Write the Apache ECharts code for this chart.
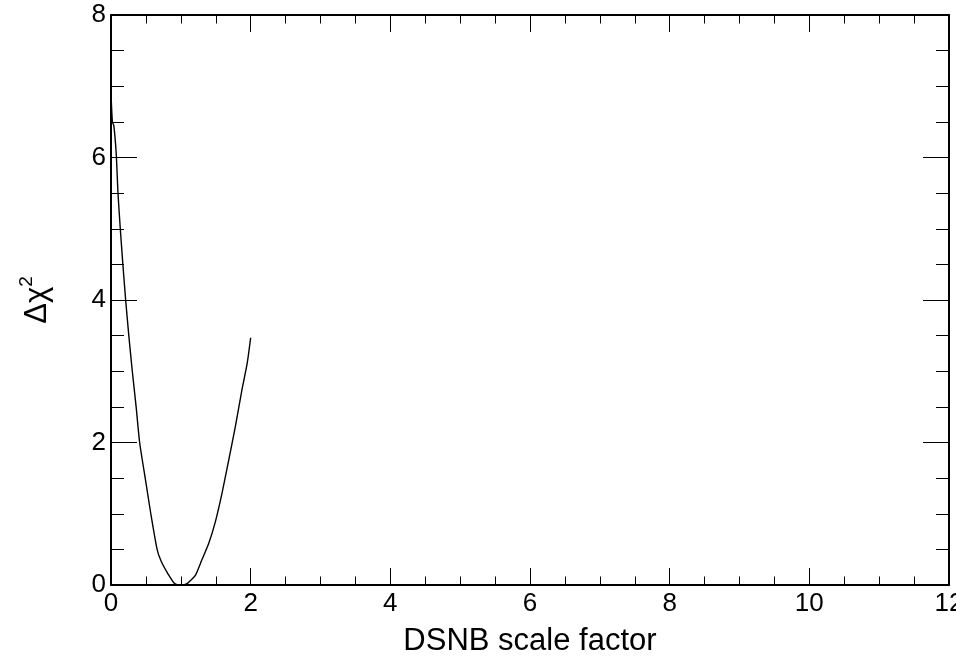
<!DOCTYPE html>
<html>
<head>
<meta charset="utf-8">
<script src="https://cdn.jsdelivr.net/npm/echarts@6/dist/echarts.min.js"></script>
<style>
html,body{margin:0;padding:0;background:#fff;}
#chart{width:956px;height:656px;}
</style>
</head>
<body>
<div id="chart"></div>
<script>
// Data
const xValues = [0.00, 0.02, 0.04, 0.075, 0.10, 0.133, 0.17, 0.21, 0.255, 0.305, 0.36, 0.41, 0.49, 0.57, 0.66, 0.72, 0.82, 0.91, 1.00, 1.09, 1.21, 1.30, 1.40, 1.495, 1.59, 1.685, 1.78, 1.875, 1.95, 2.00];
const yValues = [6.89, 6.50, 6.45, 6.05, 5.50, 5.00, 4.50, 4.00, 3.50, 3.00, 2.50, 2.00, 1.50, 1.00, 0.50, 0.33, 0.15, 0.02, 0.00, 0.02, 0.14, 0.35, 0.585, 0.89, 1.29, 1.75, 2.22, 2.74, 3.11, 3.47];
const xTitle = 'DSNB scale factor';
const xRange = [0, 12];
const yRange = [0, 8];

const FONT = '"Liberation Sans", Arial, Helvetica, sans-serif';
const points = xValues.map((x, i) => [x, yValues[i]]);

const axisLineStyle = { show: true, onZero: false, lineStyle: { color: '#000', width: 2 } };

function xAx(pos, labels) {
  return {
    type: 'value', position: pos, min: xRange[0], max: xRange[1], interval: 2,
    axisLine: axisLineStyle,
    axisTick: { show: true, inside: true, length: 17, lineStyle: { color: '#000', width: 1 } },
    minorTick: { show: true, splitNumber: 4, length: 8.5, lineStyle: { color: '#000', width: 1 } },
    splitLine: { show: false },
    axisLabel: labels ? { show: true, margin: 6, fontSize: 26, color: '#000', fontFamily: FONT } : { show: false }
  };
}
function yAx(pos, labels) {
  return {
    type: 'value', position: pos, min: yRange[0], max: yRange[1], interval: 2,
    axisLine: axisLineStyle,
    axisTick: { show: true, inside: true, length: 26, lineStyle: { color: '#000', width: 1 } },
    minorTick: { show: true, splitNumber: 4, length: 13, lineStyle: { color: '#000', width: 1 } },
    splitLine: { show: false },
    axisLabel: labels ? { show: true, margin: 5, fontSize: 26, color: '#000', fontFamily: FONT } : { show: false }
  };
}

const xMain = xAx('bottom', true);
xMain.name = xTitle;
xMain.nameLocation = 'middle';
xMain.nameGap = 41;
xMain.nameTextStyle = { fontSize: 31, color: '#000', fontFamily: FONT };

const yMain = yAx('left', true);
yMain.name = '{a|Δχ}{b|2}';
yMain.nameLocation = 'middle';
yMain.nameRotate = 90;
yMain.nameGap = 58;
yMain.nameTextStyle = {
  color: '#000', fontFamily: FONT,
  rich: {
    a: { fontSize: 31, color: '#000', fontFamily: FONT, lineHeight: 36, verticalAlign: 'bottom' },
    b: { fontSize: 19, color: '#000', fontFamily: FONT, lineHeight: 36, verticalAlign: 'top' }
  }
};

const chart = echarts.init(document.getElementById('chart'), null, { renderer: 'canvas' });
chart.setOption({
  animation: false,
  backgroundColor: '#fff',
  grid: { left: 111, right: 7, top: 15, bottom: 71, containLabel: false, outerBoundsMode: 'none' },
  xAxis: [xMain, xAx('top', false)],
  yAxis: [yMain, yAx('right', false)],
  series: [{
    type: 'line',
    data: points,
    xAxisIndex: 0, yAxisIndex: 0,
    showSymbol: false,
    symbol: 'none',
    smooth: 0.2,
    lineStyle: { color: '#000', width: 1.4 },
    z: 1
  }]
});
</script>
</body>
</html>
